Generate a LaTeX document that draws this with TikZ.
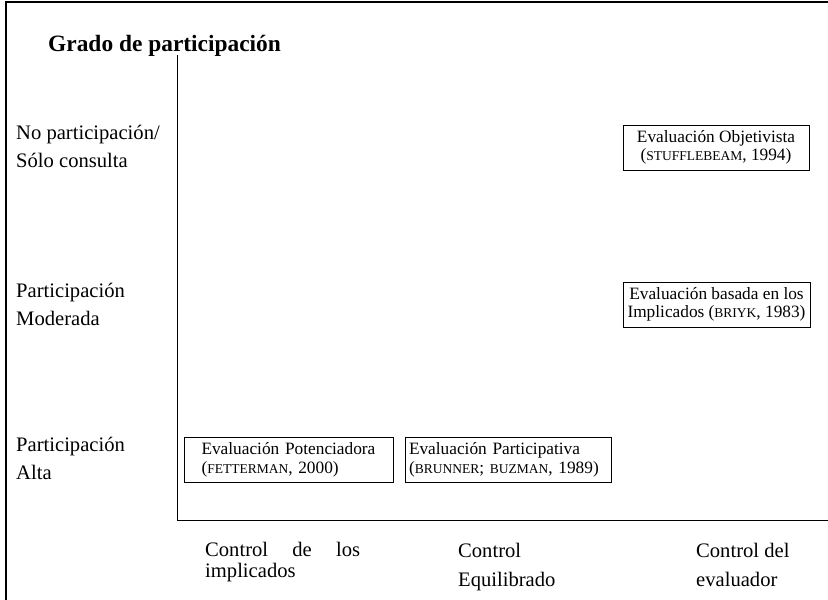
\documentclass[tikz,border=0pt]{standalone}
\usepackage{fontspec}
\setmainfont{Liberation Serif}
\newcommand{\smc}[1]{{\fontsize{13.5}{13.5}\selectfont #1}}
\begin{document}
\begin{tikzpicture}[x=1pt,y=-1pt,
  lbl/.style={anchor=base west,inner sep=0pt,font=\fontsize{20.6}{29}\selectfont},
  boxtext/.style={draw,line width=0.8pt,inner sep=0pt,font=\fontsize{17.3}{18.5}\selectfont},
  axis/.style={line width=0.8pt}]
\useasboundingbox (0,0) rectangle (828,600);
% frame
\coordinate (ftl) at (6,2);
\coordinate (ftr) at (828,2);
\coordinate (fbl) at (6,600);
\draw[line width=2pt] (ftr) -- (ftl) -- (fbl);
% axes
\coordinate (ytop) at (177,55);
\coordinate (orig) at (177,520);
\coordinate (xend) at (828,520);
\draw[axis] (ytop) -- (orig) -- (xend);
% title
\node[anchor=base west,inner sep=0pt,font=\fontsize{23.4}{26}\selectfont\bfseries] (title) at (48,51) {Grado de participación};
% left labels
\node[lbl] (l1a) at (16,139) {No participación/};
\node[lbl] (l1b) at (16,167) {Sólo consulta};
\node[lbl] (l2a) at (16,297) {Participación};
\node[lbl] (l2b) at (16,325) {Moderada};
\node[lbl] (l3a) at (16,451) {Participación};
\node[lbl] (l3b) at (16,479) {Alta};
% boxes
\node[boxtext,minimum width=186pt,minimum height=45pt,align=center] (obj) at (716,147.5)
  {Evaluación Objetivista\\(\smc{STUFFLEBEAM}, 1994)};
\node[boxtext,minimum width=187pt,minimum height=45pt,align=center] (bas) at (716.5,304.5)
  {Evaluación basada en los\\Implicados (\smc{BRIYK}, 1983)};
\node[boxtext,minimum width=209pt,minimum height=45pt,text width=190pt,align=left] (pot) at (288.5,460)
  {\hspace*{8pt}Evaluación Potenciadora\\\hspace*{8pt}(\smc{FETTERMAN}, 2000)};
\node[boxtext,minimum width=206pt,minimum height=45pt,text width=198pt,align=left] (par) at (508,460)
  {Evaluación Participativa\\(\smc{BRUNNER}; \smc{BUZMAN}, 1989)};
% bottom labels
\node[lbl] (b1a) at (205,556) {\hbox to 155pt{Control\hfil de\hfil los}};
\node[lbl] (b1b) at (205,577) {implicados};
\node[lbl] (b2a) at (458,557) {Control};
\node[lbl] (b2b) at (458,586) {Equilibrado};
\node[lbl] (b3a) at (696,557) {Control del};
\node[lbl] (b3b) at (696,586) {evaluador};
\end{tikzpicture}
\end{document}
